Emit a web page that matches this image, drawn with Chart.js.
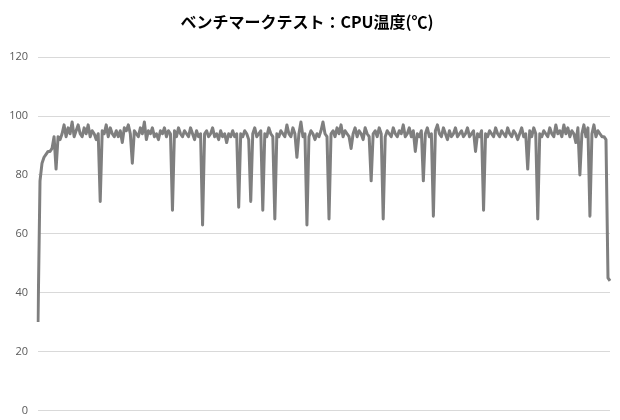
<!DOCTYPE html>
<html>
<head>
<meta charset="utf-8">
<script src="https://cdn.jsdelivr.net/npm/chart.js@4.4.1/dist/chart.umd.min.js"></script>
<style>
  html, body { margin: 0; padding: 0; background: #fff; overflow: hidden; }
  #wrap { width: 620px; height: 427px; }
</style>
</head>
<body>
<div id="wrap"><canvas id="tempChart" width="620" height="427"></canvas></div>
<script>
// Chart title and y axis ticks
const chartTitle = 'ベンチマークテスト：CPU温度(℃)';
const yTicks = [0, 20, 40, 60, 80, 100, 120];

// CPU temperature readings
const cpuTemps = [
    30, 78, 84, 86, 87, 88, 88, 89, 93, 82,
    93, 92, 94, 97, 93, 96, 94, 98, 93, 95,
    97, 94, 93, 96, 94, 97, 93, 95, 94, 92,
    94, 71, 95, 94, 97, 93, 96, 94, 93, 95,
    93, 95, 91, 96, 95, 97, 94, 84, 95, 94,
    93, 96, 94, 98, 92, 95, 94, 96, 93, 94,
    92, 95, 94, 96, 93, 95, 94, 68, 95, 93,
    96, 94, 93, 95, 94, 93, 96, 94, 92, 95,
    93, 94, 63, 94, 95, 93, 94, 96, 93, 94,
    92, 95, 93, 94, 91, 94, 93, 95, 93, 94,
    69, 94, 93, 95, 94, 92, 71, 94, 96, 93,
    94, 95, 68, 94, 93, 96, 94, 93, 65, 94,
    93, 95, 94, 93, 97, 94, 93, 96, 94, 86,
    94, 98, 93, 94, 63, 93, 95, 94, 92, 94,
    93, 95, 98, 94, 93, 65, 94, 95, 93, 96,
    94, 97, 93, 95, 94, 93, 89, 94, 96, 93,
    95, 94, 92, 96, 94, 93, 78, 94, 95, 93,
    96, 94, 65, 93, 95, 94, 93, 96, 94, 93,
    95, 94, 97, 93, 94, 96, 93, 95, 88, 94,
    93, 95, 78, 94, 96, 93, 94, 66, 95, 97,
    94, 93, 96, 94, 92, 95, 93, 94, 96, 93,
    94, 95, 93, 94, 96, 93, 94, 95, 88, 94,
    93, 95, 68, 94, 93, 95, 94, 93, 96, 94,
    93, 95, 94, 93, 96, 94, 93, 95, 94, 92,
    94, 96, 93, 94, 82, 95, 93, 96, 94, 65,
    94, 93, 95, 94, 93, 96, 94, 93, 97, 94,
    95, 93, 97, 94, 96, 93, 95, 94, 91, 96,
    80, 94, 97, 93, 96, 66, 94, 97, 93, 95,
    94, 93, 93, 92, 45, 44
];

// sample numbers on the x axis (labels are hidden in the chart)
const samples = cpuTemps.map((_, i) => i + 1);

const ctx = document.getElementById('tempChart').getContext('2d');
new Chart(ctx, {
    type: 'line',
    data: {
        labels: samples,
        datasets: [{
            label: 'CPU温度',
            data: cpuTemps,
            borderColor: '#7f7f7f',
            borderWidth: 3,
            borderJoinStyle: 'round',
            pointRadius: 0,
            tension: 0,
            fill: false
        }]
    },
    options: {
        responsive: false,
        animation: false,
        layout: {
            padding: { left: 4, right: 10, top: 0, bottom: 0 }
        },
        plugins: {
            legend: { display: false },
            tooltip: { enabled: false },
            title: {
                display: true,
                text: chartTitle,
                color: '#000',
                font: { family: '"Noto Sans CJK JP", "Noto Sans", sans-serif', size: 16, weight: 'bold' },
                padding: { top: 12, bottom: 26 }
            }
        },
        scales: {
            x: {
                display: false,
                offset: false
            },
            y: {
                min: yTicks[0],
                max: yTicks[yTicks.length - 1],
                afterBuildTicks: function(scale) {
                    scale.ticks = yTicks.map(v => ({ value: v }));
                },
                afterFit: function(scale) {
                    scale.width = 34;
                },
                border: { display: false },
                grid: {
                    color: '#d9d9d9',
                    lineWidth: 1,
                    drawTicks: false
                },
                ticks: {
                    color: '#595959',
                    padding: 10,
                    font: { family: '"Open Sans", "Noto Sans", sans-serif', size: 11 }
                }
            }
        }
    }
});
</script>
</body>
</html>
